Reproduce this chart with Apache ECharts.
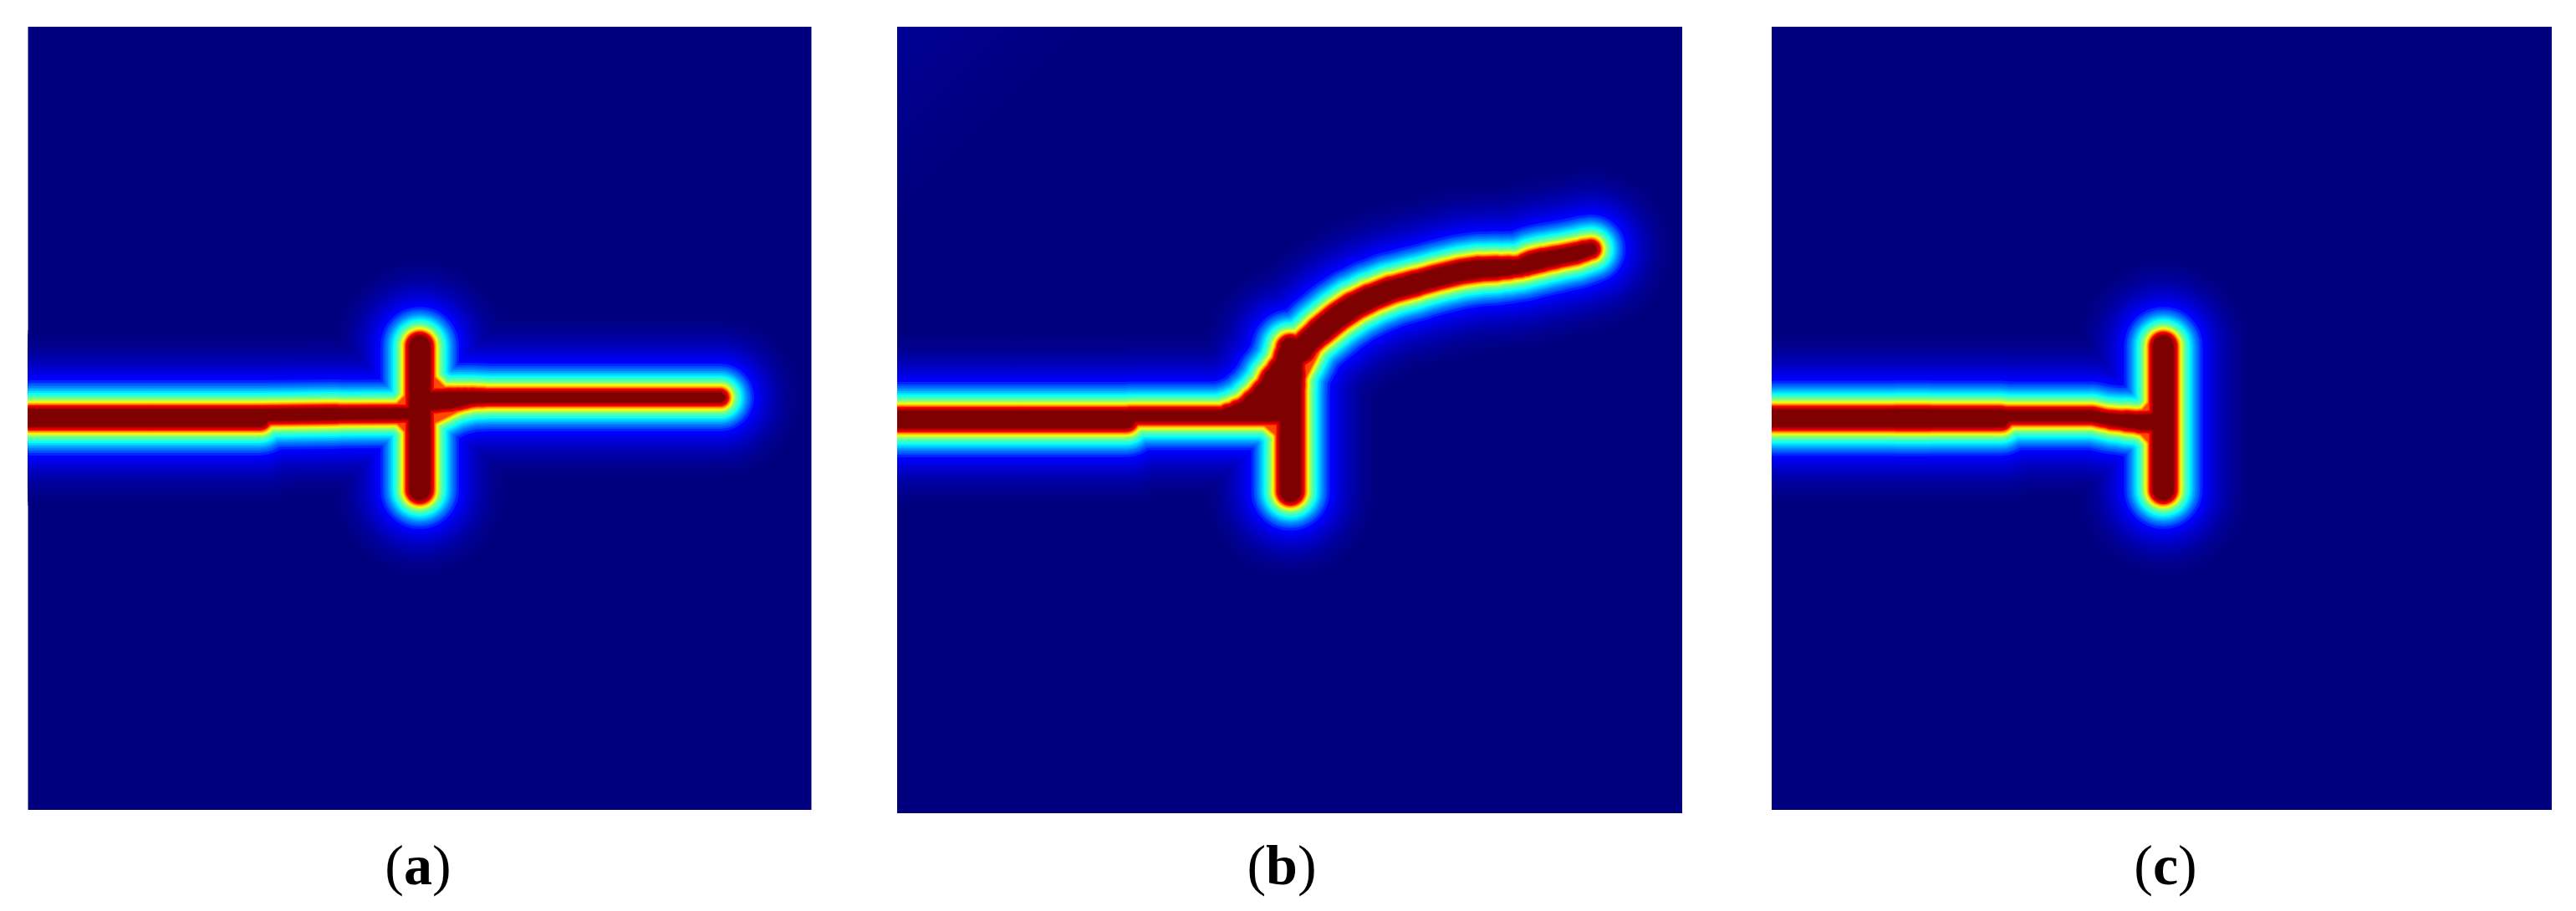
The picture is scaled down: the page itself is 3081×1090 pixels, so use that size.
<!DOCTYPE html>
<html><head><meta charset="utf-8">
<style>html,body{margin:0;padding:0;background:#fff}#c{width:3081px;height:1090px}</style>
<script src="https://cdn.jsdelivr.net/npm/echarts@6/dist/echarts.min.js"></script>
</head><body><div id="c"></div>
<script>
// Crack paths: [x, y, half width of the fully damaged core]
const panelLabels = ['a', 'b', 'c'];
const aEntry = [[0,468,10],[190,468,10]];
const aThick = [[150,468,10],[277,468,10]];
const aThin = [[280,464.5,6.5],[368,463.5,6],[470,463,6]];
const aVertical = [[468.5,382,12],[468.5,554,12]];
const aRight = [[468,449,10],[490,447.5,9.5],[505,446.5,9],[515,445.5,8],[523,444.5,7],[532,443.5,6],[545,443.5,5.5],[828,443.5,5.5]];
const aFillets = [[[442,459,0],[459,441,0]],[[442,467,0],[459,485,0]],[[478,419,0],[496,437,0]],[[478,472,0],[518,452,0]]];

const bEntry = [[0,470,10],[190,470,10]];
const bThick = [[150,470,10],[274,470,10]];
const bThin = [[278,465.5,6],[370,465.5,6],[470,465.5,6]];
const bVertical = [[470.5,385,12],[470.5,556,12]];
const bWedge = [[395,462,4],[408,460,7],[420,458,10],[430,454,14],[440,450,18],[448,445,21],[455,440,24],[460,428,22],[465,415,16],[468,405,15],[470,395,14]];
const bArc = [[470,395,14],[484,386,12],[492,377,11],[505,365,12],[527,347,12],[545,335,12],[565,325,11],[590,315,11],[620,307,10],[645,300,10],[674,293,10],[695,290,10],[717,289,9],[732,288,8],[745,287,7],[752,284.5,8],[759,282,9],[772,279,8.5],[787,276,8],[812,271,8],[822,268,7],[830,266,6]];
const bFillets = [[[443,473,0],[461,488,0]],[[480,425,0],[499,388,0]]];

const cEntry = [[0,468.5,10],[190,468.5,10]];
const cThick = [[150,468.5,10],[274,468.5,10]];
const cThin = [[278,465.5,6],[384,465.5,6]];
const cDip = [[384,465.5,6],[395,468,6],[406,470,6],[424,471.5,7],[441,473,8],[455,473,9],[468,473,10]];
const cVertical = [[468.5,382,12],[468.5,554,12]];
const cFillets = [[[446,464,0],[459,449,0]],[[443,481,0],[459,498,0]]];

// Colour ramp of the field, by distance outside the core edge
const rampOffsets = [0,2,5,7,9.5,13,20,28,38,50,65,80,95];
const rampColors = ['#7f0000','#b00000','#ff0000','#ff9000','#ffff00','#80ff80','#00ffff','#0080ff','#0000ff','#0000d0','#0000a8','#00008c','#00007f'];
const layerOffsets = [95,90,85,80,75,70,65,61,57,53,50,47,44,41,38,35,32,30,28,26,24,22,20,19,18,17,16,15,14,13,12,11,10,9,8,7,6,5,4,3,2,1,0];
const filletMinOffset = 6;

const panels = [
  {left:33.5,top:32,width:937,height:937,xMax:937,yMax:937,entry:[aEntry],chains:[aThick,aThin,aVertical,aRight],fillets:aFillets,labelX:495},
  {left:1073,top:32,width:939,height:941,xMax:939,yMax:941,entry:[bEntry],chains:[bThick,bThin,bVertical,bWedge,bArc],fillets:bFillets,labelX:1528},
  {left:2119,top:32,width:933,height:937,xMax:933,yMax:937,entry:[cEntry],chains:[cThick,cThin,cDip,cVertical],fillets:cFillets,labelX:2585}
];

function hex(c){return [1,3,5].map(i=>parseInt(c.substr(i,2),16));}
function rampColor(o){
  for(let i=1;i<rampOffsets.length;i++){
    if(o<=rampOffsets[i]){
      const t=(o-rampOffsets[i-1])/(rampOffsets[i]-rampOffsets[i-1]);
      const a=hex(rampColors[i-1]),b=hex(rampColors[i]);
      return 'rgb('+a.map((v,k)=>Math.round(v+(b[k]-v)*t)).join(',')+')';
    }
  }
  return rampColors[rampColors.length-1];
}
function groupByWidth(chains){
  const out={};
  chains.forEach(ch=>{
    for(let i=0;i<ch.length-1;i++){
      const hw=Math.round(ch[i][2]+ch[i+1][2])/2;
      (out[hw]=out[hw]||[]).push([ch[i][0],ch[i][1]],[ch[i+1][0],ch[i+1][1]],['-','-']);
    }
  });
  return out;
}

const chart = echarts.init(document.getElementById('c'),null,{renderer:'canvas'});
const grid=[],xAxis=[],yAxis=[],series=[],title=[];
panels.forEach((p,pi)=>{
  grid.push({left:p.left,top:p.top,width:p.width,height:p.height,show:true,borderWidth:0,
    backgroundColor:pi===1?new echarts.graphic.LinearGradient(0,0,0.12,0.12,[{offset:0,color:'#000094'},{offset:1,color:'#00007f'}]):'#00007f'});
  xAxis.push({type:'value',gridIndex:pi,min:0,max:p.xMax,show:false});
  yAxis.push({type:'value',gridIndex:pi,min:0,max:p.yMax,inverse:true,show:false});
  const entry=groupByWidth(p.entry), rest=groupByWidth(p.chains), fil=groupByWidth(p.fillets);
  const add=(groups,cap,off)=>Object.keys(groups).forEach(k=>{
    series.push({type:'line',xAxisIndex:pi,yAxisIndex:pi,data:groups[k],symbol:'none',showSymbol:false,
      silent:true,animation:false,clip:true,connectNulls:false,progressive:0,
      lineStyle:{color:rampColor(off),width:2*(Number(k)+off),cap:cap,join:'round'}});
  });
  layerOffsets.forEach(off=>{
    add(entry,'butt',off); add(rest,'round',off);
    if(off>=filletMinOffset) add(fil,'round',off);
  });
  title.push({text:'({b|'+panelLabels[pi]+'})',left:p.labelX,top:1001,textAlign:'center',
    textStyle:{fontFamily:'Liberation Serif',fontSize:68,fontWeight:'normal',color:'#000',
      rich:{b:{fontFamily:'Liberation Serif',fontSize:68,fontWeight:'bold',color:'#000'}}}});
});
chart.setOption({animation:false,backgroundColor:'#fff',title,grid,xAxis,yAxis,series,tooltip:{show:false}});
</script></body></html>
